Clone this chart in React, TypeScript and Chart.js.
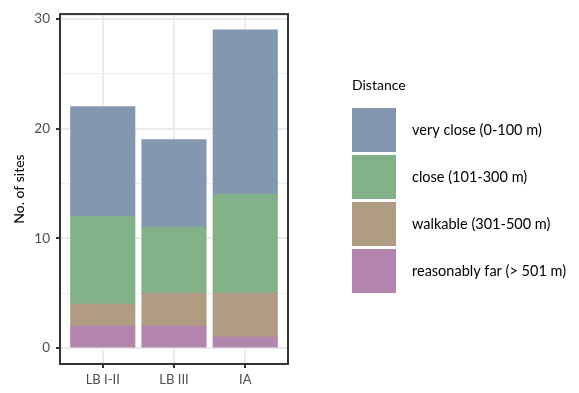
import React, { useEffect, useRef } from "react";
import { Chart, registerables } from "chart.js";

Chart.register(...registerables);

const periods = ["LB I-II", "LB III", "IA"];
const seriesNames = [
  "reasonably far (> 501 m)",
  "walkable (301-500 m)",
  "close (101-300 m)",
  "very close (0-100 m)",
];
const reasonablyFar = [2, 2, 1];
const walkable = [2, 3, 4];
const close = [8, 6, 9];
const veryClose = [10, 8, 15];
const seriesColors = ["#B384AE", "#B09C82", "#82B087", "#8497B0"];
const yTicks = [0, 5, 10, 15, 20, 25, 30];

const FONT = "Lato, 'Open Sans', sans-serif";

const legendPlugin = {
  id: "sideLegend",
  afterDraw(chart: any) {
    const ctx = chart.ctx;
    const { left, top, right, bottom } = chart.chartArea;
    ctx.save();
    // panel border
    ctx.strokeStyle = "#333333";
    ctx.lineWidth = 2;
    ctx.strokeRect(left, top, right - left, bottom - top);

    // legend
    const x0 = 352;
    ctx.fillStyle = "#000000";
    ctx.font = `14px ${FONT}`;
    ctx.textBaseline = "middle";
    ctx.textAlign = "left";
    ctx.fillText("Distance", x0, 85);
    const order = [3, 2, 1, 0];
    order.forEach((si, k) => {
      const y = 108 + k * 47;
      ctx.fillStyle = seriesColors[si];
      ctx.fillRect(x0, y, 44, 44);
      ctx.fillStyle = "#000000";
      ctx.font = `14.5px ${FONT}`;
      ctx.fillText(seriesNames[si], 412, y + 22);
    });
    ctx.restore();
  },
};

export default function App() {
  const ref = useRef<HTMLCanvasElement>(null);

  useEffect(() => {
    const values = [reasonablyFar, walkable, close, veryClose];
    const chart = new Chart(ref.current!, {
      type: "bar",
      data: {
        datasets: values.map((vals, si) => ({
          label: seriesNames[si],
          data: vals.map((v, i) => ({ x: i + 1, y: v })),
          backgroundColor: seriesColors[si],
          borderWidth: 0,
          borderColor: seriesColors[si],
          inflateAmount: 0.5,
          barPercentage: 0.9,
          categoryPercentage: 1,
        })),
      },
      options: {
        animation: false,
        responsive: false,
        maintainAspectRatio: false,
        layout: { padding: { top: 7, right: 291, bottom: 0, left: 0 } },
        plugins: { legend: { display: false }, tooltip: { enabled: false } },
        scales: {
          x: {
            type: "linear",
            stacked: true,
            offset: false,
            min: 0.4,
            max: 3.6,
            afterBuildTicks: (scale: any) => {
              scale.ticks = periods.map((_, i) => ({ value: i + 1 }));
            },
            afterFit: (scale: any) => {
              scale.height = 29;
            },
            ticks: {
              callback: (v: any) => periods[Number(v) - 1] ?? "",
              color: "#4d4d4d",
              font: { family: FONT, size: 13 },
              padding: 4,
              maxRotation: 0,
              autoSkip: false,
            },
            grid: {
              offset: false,
              color: "#ebebeb",
              lineWidth: 2,
              tickColor: "#333333",
              tickLength: 4,
              tickWidth: 2,
            },
            border: { display: false },
          },
          y: {
            stacked: true,
            min: -1.45,
            max: 30.45,
            afterBuildTicks: (scale: any) => {
              scale.ticks = yTicks.map((v) => ({ value: v }));
            },
            afterFit: (scale: any) => {
              scale.width = 60;
            },
            ticks: {
              callback: (v: any) => (Number(v) % 10 === 0 ? String(v) : ""),
              color: "#4d4d4d",
              font: { family: FONT, size: 13.5 },
              padding: 6,
              autoSkip: false,
            },
            grid: {
              color: "#ebebeb",
              lineWidth: (c: any) => (c.tick && c.tick.value % 10 === 0 ? 2 : 1),
              tickColor: (c: any) =>
                c.tick && c.tick.value % 10 === 0 ? "#333333" : "rgba(0,0,0,0)",
              tickLength: 4,
              tickWidth: 2,
            },
            border: { display: false },
            title: {
              display: true,
              text: "No. of sites",
              color: "#000000",
              font: { family: FONT, size: 14 },
              padding: { top: 11, bottom: 0 },
            },
          },
        },
      },
      plugins: [legendPlugin],
    } as any);
    return () => chart.destroy();
  }, []);

  return (
    <div style={{ position: "fixed", left: 0, top: 0, width: 579, height: 393, background: "#ffffff" }}>
      <canvas ref={ref} width={579} height={393} style={{ width: 579, height: 393 }} />
    </div>
  );
}
